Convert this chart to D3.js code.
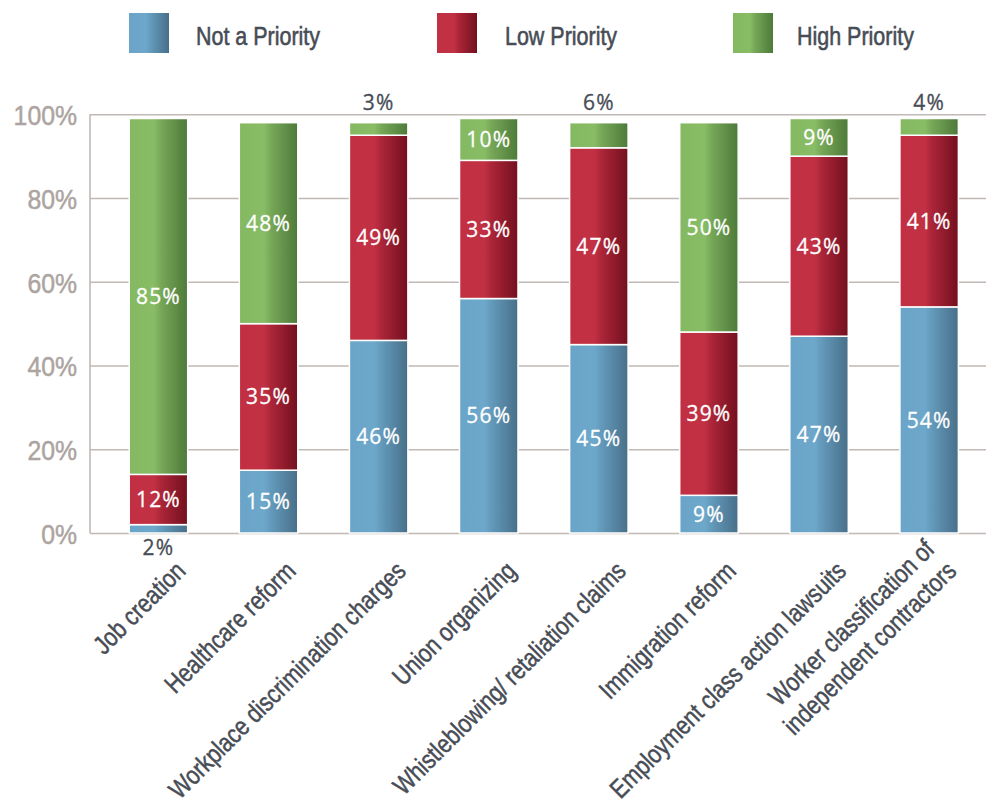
<!DOCTYPE html>
<html>
<head>
<meta charset="utf-8">
<script src="https://cdn.jsdelivr.net/npm/d3@7"></script>
<style>
  html, body { margin: 0; padding: 0; background: #fff; }
  svg { display: block; }
</style>
</head>
<body>
<svg id="chart" width="986" height="802"></svg>
<script>
// Survey priorities by workplace issue (percent of respondents)
const categories = [
  ["Job creation"],
  ["Healthcare reform"],
  ["Workplace discrimination charges"],
  ["Union organizing"],
  ["Whistleblowing/ retaliation claims"],
  ["Immigration reform"],
  ["Employment class action lawsuits"],
  ["Worker classification of", "independent contractors"]
];
const seriesNames = ["Not a Priority", "Low Priority", "High Priority"];
const notPriority  = [2, 15, 46, 56, 45, 9, 47, 54];
const lowPriority  = [12, 35, 49, 33, 47, 39, 43, 41];
const highPriority = [85, 48, 3, 10, 6, 50, 9, 4];
const yTicks = [0, 20, 40, 60, 80, 100];

const seriesValues = [notPriority, lowPriority, highPriority];
const keys = categories.map(c => c.join(" "));

const gradients = [
  { id: "gBlue",  stops: [["0%", "#6aa4c8"], ["42%", "#6da8cb"], ["55%", "#6399ba"], ["100%", "#476f89"]] },
  { id: "gRed",   stops: [["0%", "#c22f43"], ["42%", "#c23143"], ["55%", "#ab2538"], ["100%", "#72101f"]] },
  { id: "gGreen", stops: [["0%", "#84b962"], ["42%", "#88bd66"], ["55%", "#76a757"], ["100%", "#4d7a3a"]] }
];

const svg = d3.select("#chart");
const defs = svg.append("defs");
gradients.forEach(g => {
  const lg = defs.append("linearGradient").attr("id", g.id)
    .attr("x1", "0%").attr("x2", "100%").attr("y1", "0%").attr("y2", "0%");
  g.stops.forEach(s => lg.append("stop").attr("offset", s[0]).attr("stop-color", s[1]));
});

const axisColor = "#c0b9b5";
const darkText = "#474c55";
// Condensed look: Arial-metric face squeezed horizontally
const sans = "'Liberation Sans', Arial, sans-serif";

const plotLeft = 90, plotRight = 986;
const x = d3.scaleBand().domain(keys).range([103.4, 984.2])
  .paddingInner(0.469).paddingOuter(0.2345);
const y = d3.scaleLinear().domain([0, 100]).range([533, 114.3]);

// Y axis with full-width gridlines
const yAxis = svg.append("g")
  .attr("transform", `translate(${plotLeft},0)`)
  .call(d3.axisLeft(y).tickValues(yTicks).tickSize(-(plotRight - plotLeft))
    .tickPadding(13).tickFormat(d => d + "%"));
yAxis.select(".domain").attr("stroke", axisColor).attr("stroke-width", 1.6)
  .attr("d", `M0,${y(100)}V${y(0)}`);
yAxis.selectAll(".tick line").attr("stroke", axisColor).attr("stroke-width", 1.6);
yAxis.selectAll(".tick text")
  .attr("x", 0)
  .attr("transform", "translate(-13,0) scale(0.87,1)")
  .attr("fill", "#aca4a0").attr("stroke", "#aca4a0").attr("stroke-width", 0.5)
  .style("font-family", sans)
  .style("font-size", "28.5px")
  .attr("dy", "0.36em");

// Stacked bars
const rows = keys.map((k, i) => {
  const r = { key: k };
  seriesNames.forEach((s, j) => r[s] = seriesValues[j][i]);
  return r;
});
const stacked = d3.stack().keys(seriesNames)(rows);

const layers = svg.append("g").selectAll("g").data(stacked).join("g")
  .attr("fill", (d, i) => `url(#${gradients[i].id})`);
layers.selectAll("rect").data(d => d).join("rect")
  .attr("x", d => x(d.data.key))
  .attr("width", x.bandwidth())
  .attr("y", d => y(d[1]))
  .attr("height", d => y(d[0]) - y(d[1]))
  .attr("stroke", "#fff")
  .attr("stroke-width", 1.5);

// Value labels
const labelFont = "'Open Sans', 'Noto Sans', sans-serif";
const labels = svg.append("g").style("font-family", labelFont).style("font-size", "21px")
  .attr("text-anchor", "middle");
stacked.forEach((layer, si) => {
  layer.forEach(d => {
    const v = d[1] - d[0];
    const cx = x(d.data.key) + x.bandwidth() / 2;
    let cy, fill = "#fff";
    if (v < 7) {
      fill = darkText;
      cy = si === 0 ? y(0) + 14 : y(100) - 12;
    } else {
      cy = (y(d[0]) + y(d[1])) / 2;
    }
    labels.append("text")
      .attr("x", cx).attr("y", cy).attr("dy", "0.36em")
      .attr("fill", fill).attr("stroke", fill).attr("stroke-width", 0.3)
      .style("letter-spacing", "1.2px")
      .text(v + "%");
  });
});

// Category labels, rotated; extra lines stack above the last one
const catSize = 26, lh = 31;
const catG = svg.append("g").style("font-family", sans).style("font-size", catSize + "px")
  .attr("fill", darkText).attr("stroke", darkText).attr("stroke-width", 0.5)
  .attr("text-anchor", "end");
categories.forEach((lines, i) => {
  const cx = x(keys[i]) + x.bandwidth() / 2;
  const t = catG.append("text")
    .attr("transform", `translate(${cx + 22},${566}) rotate(-45) scale(0.83,1)`);
  lines.forEach((ln, j) => {
    t.append("tspan").attr("x", 0)
      .attr("y", (j - (lines.length - 1)) * lh)
      .attr("dy", "0.36em")
      .text(ln);
  });
});

// Legend
const legendItems = [
  { sx: 129, tx: 196 },
  { sx: 437, tx: 505 },
  { sx: 733, tx: 797 }
];
const legend = svg.append("g");
legendItems.forEach((p, i) => {
  legend.append("rect")
    .attr("x", p.sx).attr("y", 13).attr("width", 40).attr("height", 40)
    .attr("fill", `url(#${gradients[i].id})`);
  legend.append("text")
    .attr("transform", `translate(${p.tx},45) scale(0.81,1)`)
    .attr("fill", darkText).attr("stroke", darkText).attr("stroke-width", 0.6)
    .style("font-family", sans)
    .style("font-size", "26.5px")
    .text(seriesNames[i]);
});
</script>
</body>
</html>
